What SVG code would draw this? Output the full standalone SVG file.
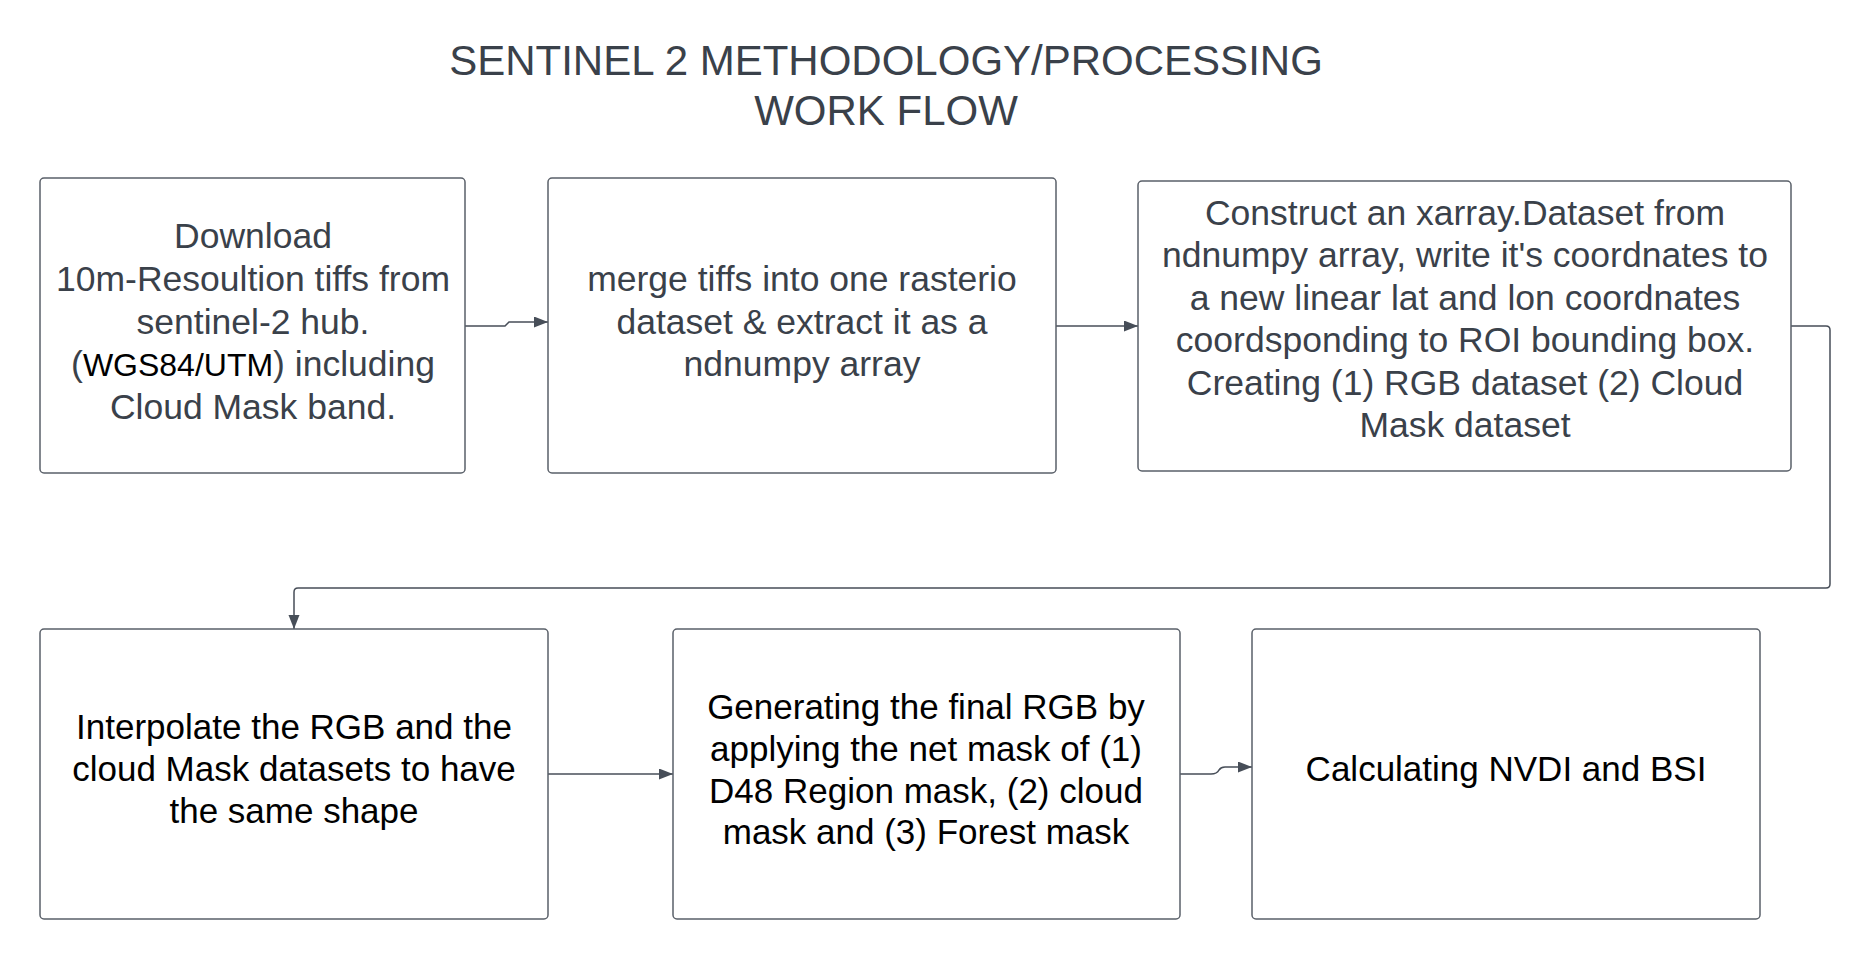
<svg xmlns="http://www.w3.org/2000/svg" width="1872" height="960" viewBox="0 0 1872 960">
<style>
.box{fill:#ffffff;stroke:#5a6069;stroke-width:1.5}
.t{font-family:"Liberation Sans",Arial,sans-serif;font-size:35.5px;text-anchor:middle}
.g{fill:#3a414a}
.k{fill:#000000;font-size:35px}
.title{font-family:"Liberation Sans",Arial,sans-serif;font-size:42px;text-anchor:middle;fill:#3a414a}
.c{fill:none;stroke:#474e58;stroke-width:1.5}
</style>
<defs>
<marker id="arr" markerUnits="userSpaceOnUse" markerWidth="16" markerHeight="12" refX="14" refY="5.5" orient="auto">
<path d="M0,0 L14,5.5 L0,11 z" fill="#474e58"/>
</marker>
</defs>
<rect width="1872" height="960" fill="#ffffff"/>
<g id="title">
<text class="title" x="886" y="75">SENTINEL 2 METHODOLOGY/PROCESSING</text>
<text class="title" x="886" y="125">WORK FLOW</text>
</g>
<g id="connectors">
<path class="c" d="M465,326 H505 L509,322 H548" marker-end="url(#arr)"/>
<path class="c" d="M1056,326 H1138" marker-end="url(#arr)"/>
<path class="c" d="M1791,326 H1826 Q1830,326 1830,330 V584 Q1830,588 1826,588 H298 Q294,588 294,592 V629" marker-end="url(#arr)"/>
<path class="c" d="M548,774 H673" marker-end="url(#arr)"/>
<path class="c" d="M1180,774 H1211 Q1217,774 1219,770 Q1221,767 1225,767 H1252" marker-end="url(#arr)"/>
</g>
<g id="node1">
<rect class="box" x="40" y="178" width="425" height="295" rx="4"/>
<text class="t g" x="253" y="248">Download</text>
<text class="t g" x="253" y="291">10m-Resoultion tiffs from</text>
<text class="t g" x="253" y="334">sentinel-2 hub.</text>
<text class="t g" x="253" y="376">(<tspan fill="#000000" font-size="32">WGS84/UTM</tspan>) including</text>
<text class="t g" x="253" y="419">Cloud Mask band.</text>
</g>
<g id="node2">
<rect class="box" x="548" y="178" width="508" height="295" rx="4"/>
<text class="t g" x="802" y="291">merge tiffs into one rasterio</text>
<text class="t g" x="802" y="334">dataset &amp; extract it as a</text>
<text class="t g" x="802" y="376">ndnumpy array</text>
</g>
<g id="node3">
<rect class="box" x="1138" y="181" width="653" height="290" rx="4"/>
<text class="t g" x="1465" y="225">Construct an xarray.Dataset from</text>
<text class="t g" x="1465" y="267">ndnumpy array, write it's coordnates to</text>
<text class="t g" x="1465" y="310">a new linear lat and lon coordnates</text>
<text class="t g" x="1465" y="352">coordsponding to ROI bounding box.</text>
<text class="t g" x="1465" y="395">Creating (1) RGB dataset (2) Cloud</text>
<text class="t g" x="1465" y="437">Mask dataset</text>
</g>
<g id="node4">
<rect class="box" x="40" y="629" width="508" height="290" rx="4"/>
<text class="t k" x="294" y="739">Interpolate the RGB and the</text>
<text class="t k" x="294" y="781">cloud Mask datasets to have</text>
<text class="t k" x="294" y="823">the same shape</text>
</g>
<g id="node5">
<rect class="box" x="673" y="629" width="507" height="290" rx="4"/>
<text class="t k" x="926" y="719">Generating the final RGB by</text>
<text class="t k" x="926" y="761">applying the net mask of (1)</text>
<text class="t k" x="926" y="803">D48 Region mask, (2) cloud</text>
<text class="t k" x="926" y="844">mask and (3) Forest mask</text>
</g>
<g id="node6">
<rect class="box" x="1252" y="629" width="508" height="290" rx="4"/>
<text class="t k" x="1506" y="781">Calculating NVDI and BSI</text>
</g>
</svg>
